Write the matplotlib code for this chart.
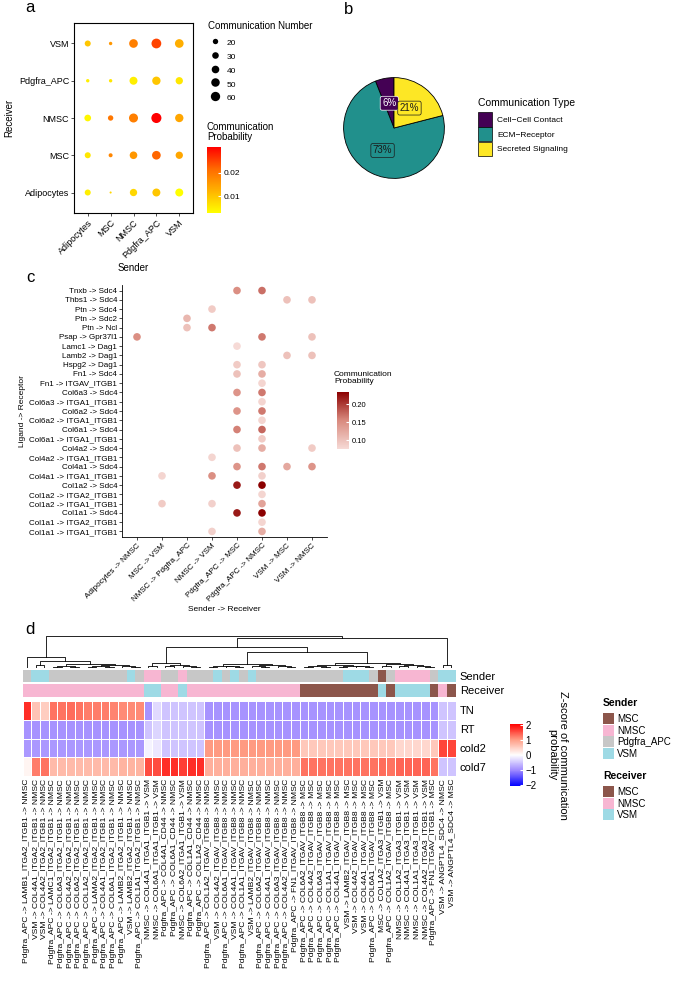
import numpy as np
import matplotlib.pyplot as plt
from matplotlib.colors import LinearSegmentedColormap, ListedColormap, Normalize
from matplotlib.patches import Patch
from matplotlib.lines import Line2D
import matplotlib.cm as cm

plt.rcParams['font.family'] = ['Liberation Sans', 'DejaVu Sans']

# ---------------- panel a: aggregated communication ----------------
cell_types = ['Adipocytes', 'MSC', 'NMSC', 'Pdgfra_APC', 'VSM']
# rows = receiver (Adipocytes .. VSM), columns = sender (Adipocytes .. VSM)
comm_number = np.array([
    [25, 3, 37, 44, 44],
    [25, 11, 40, 52, 37],
    [31, 20, 56, 70, 48],
    [8, 8, 44, 48, 37],
    [25, 8, 52, 66, 52],
])
comm_prob = np.array([
    [0.005, 0.008, 0.008, 0.010, 0.003],
    [0.006, 0.018, 0.016, 0.022, 0.014],
    [0.004, 0.020, 0.019, 0.031, 0.014],
    [0.005, 0.006, 0.005, 0.010, 0.006],
    [0.010, 0.016, 0.019, 0.025, 0.013],
])
size_breaks = [20, 30, 40, 50, 60]

# ---------------- panel b: communication type ----------------
comm_types = ['Cell\u2212Cell Contact', 'ECM\u2212Receptor', 'Secreted Signaling']
comm_pct = [6, 73, 21]
type_colors = ['#440154', '#21908C', '#FDE725']
pct_text_colors = ['white', '#1a1a1a', '#1a1a1a']

# ---------------- panel c: ligand-receptor bubble ----------------
lr_pairs = ['Tnxb -> Sdc4', 'Thbs1 -> Sdc4', 'Ptn -> Sdc4', 'Ptn -> Sdc2', 'Ptn -> Ncl',
            'Psap -> Gpr37l1', 'Lamc1 -> Dag1', 'Lamb2 -> Dag1', 'Hspg2 -> Dag1',
            'Fn1 -> Sdc4', 'Fn1 -> ITGAV_ITGB1', 'Col6a3 -> Sdc4', 'Col6a3 -> ITGA1_ITGB1',
            'Col6a2 -> Sdc4', 'Col6a2 -> ITGA1_ITGB1', 'Col6a1 -> Sdc4', 'Col6a1 -> ITGA1_ITGB1',
            'Col4a2 -> Sdc4', 'Col4a2 -> ITGA1_ITGB1', 'Col4a1 -> Sdc4', 'Col4a1 -> ITGA1_ITGB1',
            'Col1a2 -> Sdc4', 'Col1a2 -> ITGA2_ITGB1', 'Col1a2 -> ITGA1_ITGB1',
            'Col1a1 -> Sdc4', 'Col1a1 -> ITGA2_ITGB1', 'Col1a1 -> ITGA1_ITGB1']
sr_links = ['Adipocytes -> NMSC', 'MSC -> VSM', 'NMSC -> Pdgfra_APC', 'NMSC -> VSM',
            'Pdgfra_APC -> MSC', 'Pdgfra_APC -> NMSC', 'VSM -> MSC', 'VSM -> NMSC']
dot_pair = [0, 0, 1, 1, 2, 3, 4, 4, 5, 5, 5, 6, 7, 7, 8, 8, 9, 9, 10, 11, 11, 12,
            13, 13, 14, 15, 15, 16, 17, 17, 17, 18, 19, 19, 19, 19, 20, 20, 20,
            21, 21, 22, 23, 23, 23, 24, 24, 25, 26, 26]
dot_link = [4, 5, 6, 7, 3, 2, 2, 3, 0, 5, 7, 4, 6, 7, 4, 5, 4, 5, 5, 4, 5, 5,
            4, 5, 5, 4, 5, 5, 4, 5, 7, 3, 4, 5, 6, 7, 1, 3, 5,
            4, 5, 5, 1, 3, 5, 4, 5, 5, 3, 5]
dot_prob = [0.150, 0.170, 0.100, 0.100, 0.090, 0.110, 0.100, 0.165, 0.150, 0.165, 0.100,
            0.075, 0.100, 0.100, 0.090, 0.095, 0.100, 0.120, 0.080, 0.145, 0.165, 0.080,
            0.145, 0.165, 0.080, 0.160, 0.175, 0.090, 0.100, 0.120, 0.090, 0.080,
            0.145, 0.165, 0.125, 0.145, 0.080, 0.150, 0.085,
            0.220, 0.235, 0.080, 0.090, 0.085, 0.130, 0.220, 0.235, 0.080, 0.085, 0.120]

# ---------------- panel d: heatmap ----------------
heat_sender = ['Pdgfra_APC', 'VSM', 'VSM', 'Pdgfra_APC', 'Pdgfra_APC', 'Pdgfra_APC', 'Pdgfra_APC',
               'Pdgfra_APC', 'Pdgfra_APC', 'Pdgfra_APC', 'Pdgfra_APC', 'Pdgfra_APC', 'VSM', 'Pdgfra_APC',
               'NMSC', 'NMSC', 'Pdgfra_APC', 'Pdgfra_APC', 'NMSC', 'Pdgfra_APC', 'Pdgfra_APC',
               'Pdgfra_APC', 'VSM', 'Pdgfra_APC', 'VSM', 'Pdgfra_APC', 'VSM', 'Pdgfra_APC',
               'Pdgfra_APC', 'Pdgfra_APC', 'Pdgfra_APC', 'Pdgfra_APC', 'Pdgfra_APC', 'Pdgfra_APC',
               'Pdgfra_APC', 'Pdgfra_APC', 'Pdgfra_APC', 'VSM', 'VSM', 'VSM', 'Pdgfra_APC', 'MSC',
               'Pdgfra_APC', 'NMSC', 'NMSC', 'NMSC', 'NMSC', 'Pdgfra_APC', 'VSM', 'VSM']
heat_lr = ['LAMB1_ITGA2_ITGB1', 'COL4A1_ITGA2_ITGB1', 'COL4A2_ITGA2_ITGB1', 'LAMC1_ITGA2_ITGB1',
           'COL6A3_ITGA2_ITGB1', 'COL4A2_ITGA2_ITGB1', 'COL6A2_ITGA2_ITGB1', 'COL1A2_ITGA2_ITGB1',
           'LAMA2_ITGA2_ITGB1', 'COL4A1_ITGA2_ITGB1', 'COL6A1_ITGA2_ITGB1', 'LAMB2_ITGA2_ITGB1',
           'LAMB2_ITGA2_ITGB1', 'COL1A1_ITGA2_ITGB1', 'COL4A1_ITGA1_ITGB1', 'COL6A1_ITGA1_ITGB1',
           'COL4A1_CD44', 'COL6A1_CD44', 'COL6A2_ITGA1_ITGB1', 'COL1A1_CD44', 'COL1A2_CD44',
           'COL1A2_ITGAV_ITGB8', 'COL4A2_ITGAV_ITGB8', 'COL6A1_ITGAV_ITGB8', 'COL4A1_ITGAV_ITGB8',
           'COL1A1_ITGAV_ITGB8', 'LAMB2_ITGAV_ITGB8', 'COL6A2_ITGAV_ITGB8', 'COL4A1_ITGAV_ITGB8',
           'COL6A3_ITGAV_ITGB8', 'COL4A2_ITGAV_ITGB8', 'FN1_ITGAV_ITGB8', 'COL6A2_ITGAV_ITGB8',
           'COL4A2_ITGAV_ITGB8', 'COL6A3_ITGAV_ITGB8', 'COL1A1_ITGAV_ITGB8', 'COL4A1_ITGAV_ITGB8',
           'LAMB2_ITGAV_ITGB8', 'COL4A2_ITGAV_ITGB8', 'COL4A1_ITGAV_ITGB8', 'COL6A1_ITGAV_ITGB8',
           'COL1A2_ITGA3_ITGB1', 'COL1A2_ITGAV_ITGB8', 'COL1A2_ITGA3_ITGB1', 'COL4A1_ITGA3_ITGB1',
           'COL1A1_ITGA3_ITGB1', 'COL4A2_ITGA3_ITGB1', 'FN1_ITGAV_ITGB1', 'ANGPTL4_SDC4', 'ANGPTL4_SDC4']
heat_receiver = ['NMSC', 'NMSC', 'NMSC', 'NMSC', 'NMSC', 'NMSC', 'NMSC', 'NMSC', 'NMSC', 'NMSC',
                 'NMSC', 'NMSC', 'NMSC', 'NMSC', 'VSM', 'VSM', 'NMSC', 'NMSC', 'VSM', 'NMSC',
                 'NMSC', 'NMSC', 'NMSC', 'NMSC', 'NMSC', 'NMSC', 'NMSC', 'NMSC', 'NMSC', 'NMSC',
                 'NMSC', 'NMSC', 'MSC', 'MSC', 'MSC', 'MSC', 'MSC', 'MSC', 'MSC', 'MSC',
                 'MSC', 'VSM', 'MSC', 'VSM', 'VSM', 'VSM', 'VSM', 'MSC', 'NMSC', 'MSC']
conditions = ['TN', 'RT', 'cold2', 'cold7']
z_TN = [1.7, 0.6, 0.5, 1.25, 1.25, 1.3, 1.25, 1.2, 1.2, 1.2, 1.15, 1.1, 1.1, 1.1,
        -0.9, -0.3, -0.5, -0.5, -0.5, -0.5, -0.5,
        -0.9, -0.9, -0.9, -0.9, -0.9, -0.9, -0.9, -0.9, -0.9, -0.9, -0.9,
        -0.9, -0.9, -0.9, -0.9, -0.9, -0.9, -0.9, -0.9, -0.9, -0.9, -0.9, -0.9, -0.9, -0.9, -0.9, -0.9,
        -0.5, -0.5]
z_RT = [-0.9, -0.9, -0.9, -0.9, -0.9, -0.9, -0.9, -0.9, -0.9, -0.9, -0.9, -0.9, -0.9, -0.9,
        -0.5, -0.35, -0.5, -0.5, -0.5, -0.5, -0.5,
        -0.9, -0.9, -0.9, -0.9, -0.9, -0.9, -0.9, -0.9, -0.9, -0.9, -0.9,
        -0.9, -0.9, -0.9, -0.9, -0.9, -0.9, -0.9, -0.9, -0.9, -0.9, -0.9, -0.9, -0.9, -0.9, -0.9, -0.9,
        -0.5, -0.5]
z_cold2 = [-0.85, -0.85, -0.85, -0.85, -0.85, -0.85, -0.85, -0.85, -0.85, -0.85, -0.85, -0.85, -0.85, -0.85,
           -0.1, -0.2, -0.5, -0.5, -0.5, -0.5, -0.5,
           1.0, 1.0, 1.0, 1.0, 1.0, 1.0, 1.0, 1.0, 1.0, 1.0, 1.0,
           0.55, 0.55, 0.55, 0.55, 0.55, 0.55, 0.55, 0.55, 0.55, 0.55, 0.55, 0.4, 0.4, 0.4, 0.4, 0.55,
           1.55, 1.55]
z_cold7 = [0.1, 1.2, 1.25, 0.7, 0.7, 0.7, 0.7, 0.7, 0.7, 0.7, 0.7, 0.75, 0.75, 0.75,
           1.5, 1.5, 1.7, 1.7, 1.6, 1.7, 1.7,
           0.8, 0.8, 0.8, 0.8, 0.8, 0.8, 0.8, 0.8, 0.8, 0.8, 0.8,
           1.25, 1.25, 1.25, 1.25, 1.25, 1.25, 1.25, 1.25, 1.25, 1.3, 1.25, 1.35, 1.35, 1.35, 1.35, 1.25,
           -0.5, -0.5]
group_names = ['MSC', 'NMSC', 'Pdgfra_APC', 'VSM']
group_colors = ['#8C564B', '#F7B6D2', '#C7C7C7', '#9EDAE5']

# column dendrogram as nested (height, left, right); leaves are column indices
dendro_A = (11, 0, (7, (3, 1, 2), (4, (2, (1, 3, 4), (1, 5, 6)),
                                   (2.5, (1.5, (1, 7, 8), (1, 9, 10)), (1.5, 11, (1, 12, 13))))))
dendro_B1 = (5, (2, 14, 15), (3, (1.5, 16, 17), (2, 18, (1, 19, 20))))
dendro_B2 = (16, (4, (2, (1, 21, 22), (1.5, 23, (1, 24, 25))),
                  (2.5, (1.5, 26, (1, 27, 28)), (1.5, 29, (1, 30, 31)))),
             (5, (3, (1.5, (1, 32, 33), (1, 34, 35)), (2, (1, 36, 37), (1.5, 38, (1, 39, 40)))),
              (3.5, (2, 41, 42), (2.5, (1.5, 43, 44), (1.5, 45, (1, 46, 47))))))
dendro = (31, dendro_A, (29, (21, dendro_B1, dendro_B2), (3, 48, 49)))

# ---------------- figure ----------------
W, H = 680, 999
fig = plt.figure(figsize=(W / 100, H / 100), dpi=100)


def px_axes(x0, y0, x1, y1):
    return fig.add_axes([x0 / W, 1 - y1 / H, (x1 - x0) / W, (y1 - y0) / H])


def fx(x):
    return x / W


def fy(y):
    return 1 - y / H


# panel letters
for letter, (x, y) in zip('abcd', [(30, 8), (349, 10), (30, 277), (30, 630)]):
    fig.text(fx(x), fy(y), letter, fontsize=12, ha='center', va='center')

# ---- a ----
ax_a = px_axes(74, 23, 193, 213)
cmap_a = LinearSegmentedColormap.from_list('yr', ['#FFFF00', '#FFB300', '#FF6A00', '#FF0000'])
gx, gy = np.meshgrid(np.arange(len(cell_types)), np.arange(len(cell_types)))
ax_a.scatter(gx.ravel(), gy.ravel(), s=0.75 * comm_number.ravel(), c=comm_prob.ravel(),
             cmap=cmap_a, vmin=comm_prob.min(), vmax=comm_prob.max(), linewidths=0)
ax_a.set_xlim(-0.6, 4.6)
ax_a.set_ylim(-0.55, 4.55)
ax_a.set_xticks(range(len(cell_types)))
ax_a.set_xticklabels(cell_types, rotation=45, ha='right', rotation_mode='anchor', fontsize=6.5)
ax_a.set_yticks(range(len(cell_types)))
ax_a.set_yticklabels(cell_types, fontsize=6.5)
ax_a.tick_params(length=2, width=0.6, pad=1.5, color='#333333')
ax_a.set_xlabel('Sender', fontsize=7, labelpad=2)
ax_a.set_ylabel('Receiver', fontsize=7, labelpad=3)
for sp in ax_a.spines.values():
    sp.set_linewidth(0.8)

fig.text(fx(208), fy(26), 'Communication Number', fontsize=7, ha='left', va='center')
size_handles = [Line2D([], [], marker='o', ls='', color='black', markeredgewidth=0,
                       markersize=np.sqrt(0.75 * v)) for v in size_breaks]
fig.legend(size_handles, [str(v) for v in size_breaks], loc='upper left',
           bbox_to_anchor=(fx(209), fy(37)), frameon=False, fontsize=6,
           handletextpad=0.7, labelspacing=0.26, borderpad=0, borderaxespad=0,
           handlelength=1.44, handleheight=1.75)

cax_a = px_axes(207, 147, 221, 213)
cb_a = fig.colorbar(cm.ScalarMappable(Normalize(comm_prob.min(), comm_prob.max()), cmap_a), cax=cax_a)
cb_a.outline.set_visible(False)
cb_a.set_ticks([0.01, 0.02])
cb_a.ax.tick_params(labelsize=6, length=2.5, color='white', direction='in', pad=2)
fig.text(fx(207), fy(122), 'Communication\nProbability', fontsize=7, ha='left', va='top', linespacing=1.0)

# ---- b ----
ax_b = px_axes(331, 65, 457, 191)
wedges, _, pct_texts = ax_b.pie(comm_pct, colors=type_colors, startangle=90, counterclock=True,
                                autopct=lambda p: f'{p:.0f}%', pctdistance=0.5,
                                wedgeprops=dict(edgecolor='black', linewidth=0.6),
                                textprops=dict(fontsize=7))
for t, fc, tc in zip(pct_texts, type_colors, pct_text_colors):
    t.set_color(tc)
    t.set_bbox(dict(boxstyle='round,pad=0.2,rounding_size=0.2', fc=fc, ec=tc, lw=0.5))
ax_b.set_aspect('equal')
fig.text(fx(478), fy(103), 'Communication Type', fontsize=7.5, ha='left', va='center')
type_handles = [Patch(facecolor=c, edgecolor='black', linewidth=0.5) for c in type_colors]
fig.legend(type_handles, comm_types, loc='upper left',
           bbox_to_anchor=(fx(478), fy(112.5)), frameon=False, fontsize=6,
           handlelength=1.68, handleheight=2.21, labelspacing=0.08,
           handletextpad=0.6, borderpad=0, borderaxespad=0)

# ---- c ----
ax_c = px_axes(122, 285, 327, 537)
cmap_c = LinearSegmentedColormap.from_list('rd', ['#F6DAD6', '#D98A7E', '#8B0000'])
n_pairs = len(lr_pairs)
ax_c.scatter(dot_link, [n_pairs - 1 - p for p in dot_pair], s=30, c=dot_prob, cmap=cmap_c,
             vmin=min(dot_prob), vmax=max(dot_prob), linewidths=0)
ax_c.set_xlim(-0.6, len(sr_links) - 0.4)
ax_c.set_ylim(-0.6, n_pairs - 0.4)
ax_c.set_xticks(range(len(sr_links)))
ax_c.set_xticklabels(sr_links, rotation=45, ha='right', rotation_mode='anchor', fontsize=5.8)
ax_c.set_yticks(range(n_pairs))
ax_c.set_yticklabels(lr_pairs[::-1], fontsize=5.8)
ax_c.tick_params(length=2, width=0.5, pad=1.5)
ax_c.spines['top'].set_visible(False)
ax_c.spines['right'].set_visible(False)
for sp in ('left', 'bottom'):
    ax_c.spines[sp].set_linewidth(0.6)
ax_c.set_xlabel('Sender -> Receiver', fontsize=6, labelpad=2)
ax_c.set_ylabel('Ligand -> Receptor', fontsize=6, labelpad=2)

cax_c = px_axes(337, 392, 349, 449)
cb_c = fig.colorbar(cm.ScalarMappable(Normalize(min(dot_prob), max(dot_prob)), cmap_c), cax=cax_c)
cb_c.outline.set_visible(False)
cb_c.set_ticks([0.10, 0.15, 0.20])
cb_c.ax.tick_params(labelsize=5.5, length=2, color='white', direction='in', pad=2)
fig.text(fx(334), fy(371), 'Communication\nProbability', fontsize=6, ha='left', va='top', linespacing=1.0)

# ---- d ----
hx0, hx1 = 22.6, 455.6
n_col = len(heat_sender)
ax_den = px_axes(hx0, 636, hx1, 668)


def draw_tree(ax, node):
    if isinstance(node, int):
        return node + 0.5, 0.0
    h, left, right = node
    xl, hl = draw_tree(ax, left)
    xr, hr = draw_tree(ax, right)
    ax.plot([xl, xl, xr, xr], [hl, h, h, hr], color='black', lw=0.6)
    return (xl + xr) / 2, h


draw_tree(ax_den, dendro)
ax_den.set_xlim(0, n_col)
ax_den.set_ylim(0, dendro[0] + 0.3)
ax_den.axis('off')

group_cmap = ListedColormap(group_colors)
for label, groups, (y0, y1) in [('Sender', heat_sender, (670, 682)), ('Receiver', heat_receiver, (684, 697))]:
    ax_ann = px_axes(hx0, y0, hx1, y1)
    codes = np.array([[group_names.index(g) for g in groups]])
    ax_ann.pcolormesh(np.arange(n_col + 1), [0, 1], codes, cmap=group_cmap, vmin=-0.5, vmax=3.5)
    ax_ann.set_xlim(0, n_col)
    ax_ann.set_xticks([])
    ax_ann.yaxis.tick_right()
    ax_ann.set_yticks([0.5])
    ax_ann.set_yticklabels([label], fontsize=8)
    ax_ann.tick_params(length=0, pad=3)
    for sp in ax_ann.spines.values():
        sp.set_visible(False)

zmat = np.array([z_TN, z_RT, z_cold2, z_cold7])
cmap_z = LinearSegmentedColormap.from_list('bwr_lab', [(0, '#0000FF'), (0.25, '#9D87FF'), (0.5, '#FFFFFF'),
                                                      (0.75, '#FF9C84'), (1, '#FF0000')])
ax_h = px_axes(hx0, 701, hx1, 776)
ax_h.pcolormesh(np.arange(n_col + 1), np.arange(len(conditions) + 1), zmat, cmap=cmap_z,
                vmin=-2, vmax=2, edgecolor='white', linewidth=0.4)
ax_h.set_xlim(0, n_col)
ax_h.set_ylim(len(conditions), 0)
ax_h.yaxis.tick_right()
ax_h.set_yticks(np.arange(len(conditions)) + 0.5)
ax_h.set_yticklabels(conditions, fontsize=8)
ax_h.set_xticks(np.arange(n_col) + 0.5)
ax_h.set_xticklabels([f'{s} -> {lr} -> {r}' for s, lr, r in zip(heat_sender, heat_lr, heat_receiver)],
                     rotation=90, fontsize=6.1)
ax_h.tick_params(length=0, pad=2)
ax_h.tick_params(axis='y', pad=3)
for sp in ax_h.spines.values():
    sp.set_visible(False)

cax_z = px_axes(510, 724, 523, 786)
cb_z = fig.colorbar(cm.ScalarMappable(Normalize(-2.1, 2.1), cmap_z), cax=cax_z)
cb_z.outline.set_visible(False)
cb_z.set_ticks([-2, -1, 0, 1, 2])
cb_z.set_ticklabels(['\u22122', '\u22121', '0', '1', '2'])
cb_z.ax.tick_params(labelsize=7, length=2.5, color='white', direction='in', pad=2)
fig.text(fx(558), fy(755), 'Z-score of communication\nprobability', fontsize=8, rotation=270,
         ha='center', va='center', multialignment='center', linespacing=1.1)

group_handles = [Patch(facecolor=c, edgecolor='none') for c in group_colors]
recv_names = sorted(set(heat_receiver))
for title, names, ty in [('Sender', group_names, 703), ('Receiver', recv_names, 776)]:
    fig.text(fx(603), fy(ty), title, fontsize=7.5, fontweight='bold', ha='left', va='center')
    fig.legend([group_handles[group_names.index(g)] for g in names], names, loc='upper left',
               bbox_to_anchor=(fx(603), fy(ty + 10.5)), frameon=False, fontsize=7,
               handlelength=1.13, handleheight=1.36, labelspacing=0.05, handletextpad=0.31,
               borderpad=0, borderaxespad=0)

fig.savefig('out.png', dpi=100)
